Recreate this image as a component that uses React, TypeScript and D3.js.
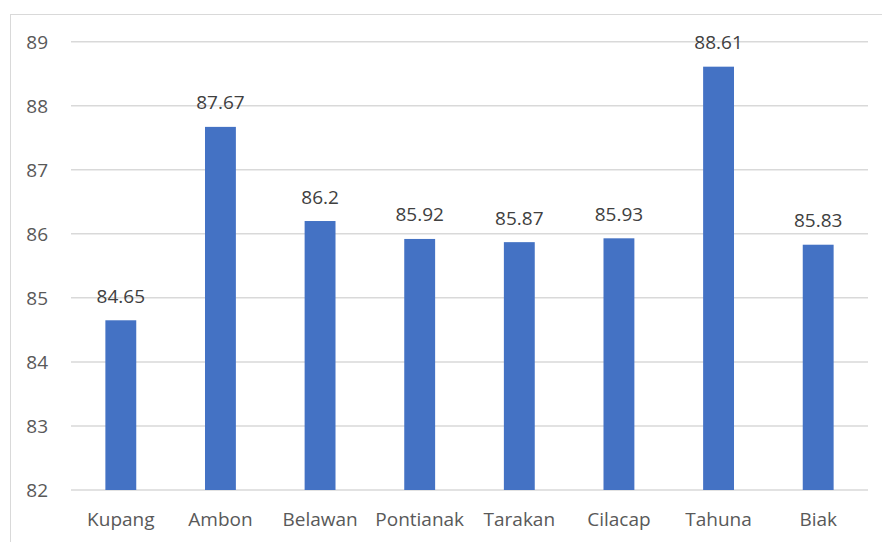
import React from "react";
import * as d3 from "d3";

const categories = ["Kupang", "Ambon", "Belawan", "Pontianak", "Tarakan", "Cilacap", "Tahuna", "Biak"];
const values = [84.65, 87.67, 86.2, 85.92, 85.87, 85.93, 88.61, 85.83];
const valueLabels = ["84.65", "87.67", "86.2", "85.92", "85.87", "85.93", "88.61", "85.83"];
const yTicks = [82, 83, 84, 85, 86, 87, 88, 89];

const W = 882;
const H = 542;
const FONT = "'Open Sans', sans-serif";

export default function App() {
  const x = d3.scaleBand<string>().domain(categories).range([71, 868]).padding(0);
  const y = d3.scaleLinear().domain([82, 89]).range([490, 41.7]);
  const bw = x.bandwidth() * 0.31;

  return (
    <svg width={W} height={H} style={{ position: "absolute", left: 0, top: 0 }}>
      <rect x={0} y={0} width={W} height={H} fill="#ffffff" />
      <rect x={10.5} y={14.5} width={W + 20} height={H + 20} fill="none" stroke="#d9d9d9" strokeWidth={1} />
      {yTicks.map((t) => (
        <g key={t}>
          <line x1={71} x2={868} y1={y(t)} y2={y(t)} stroke="#d9d9d9" strokeWidth={1.5} />
          <text
            x={48}
            y={y(t)}
            textAnchor="end"
            dominantBaseline="central"
            fontFamily={FONT}
            fontSize={19}
            fill="#595959"
          >
            {t}
          </text>
        </g>
      ))}
      {categories.map((c, i) => {
        const cx = (x(c) as number) + x.bandwidth() / 2;
        return (
          <g key={c}>
            <rect x={cx - bw / 2} y={y(values[i])} width={bw} height={y(82) - y(values[i])} fill="#4472c4" />
            <text x={cx} y={y(values[i]) - 17.5} textAnchor="middle" fontFamily={FONT} fontSize={19} fill="#404040">
              {valueLabels[i]}
            </text>
            <text x={cx} y={526} textAnchor="middle" fontFamily={FONT} fontSize={19} fill="#595959">
              {c}
            </text>
          </g>
        );
      })}
    </svg>
  );
}
